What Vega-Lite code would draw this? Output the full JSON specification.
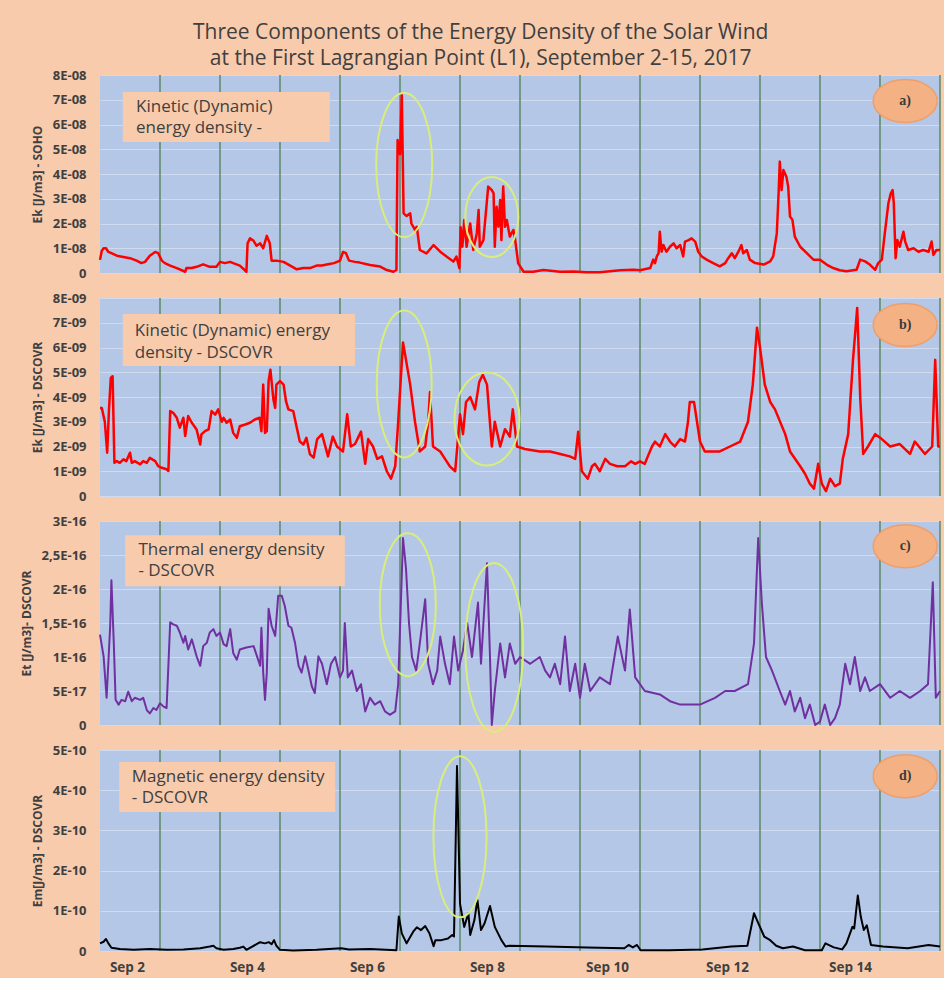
{
  "$schema": "https://vega.github.io/schema/vega-lite/v6.json",
  "background": "#F8CBAD",
  "padding": {"left": 20, "top": 22, "right": 2, "bottom": 4},
  "title": {"text": ["Three Components of the Energy Density of the Solar Wind", "at the First Lagrangian Point (L1), September 2-15, 2017"], "font": "Open Sans", "fontSize": 21, "fontWeight": "normal", "color": "#404040", "lineHeight": 26, "anchor": "middle", "offset": 0},
  "config": {
    "view": {"stroke": null, "fill": "#B4C7E7"},
    "font": "Open Sans",
    "axis": {"labelFont": "Open Sans", "labelFontSize": 13, "labelFontWeight": "bold", "labelColor": "#404040", "labelOverlap": false, "titleFont": "Open Sans", "titleFontSize": 12, "titleFontWeight": "bold", "titleColor": "#404040", "ticks": false, "domain": false, "gridColor": "#D0DBEF", "gridWidth": 1, "labelPadding": 14, "titlePadding": 8}
  },
  "datasets": {
    "days": [{"d":1},{"d":2},{"d":3},{"d":4},{"d":5},{"d":6},{"d":7},{"d":8},{"d":9},{"d":10},{"d":11},{"d":12},{"d":13},{"d":14}],
    "a": [{"d":0,"v":0.53e-8},{"d":0.03,"v":0.9e-8},{"d":0.06,"v":1.0e-8},{"d":0.1,"v":1.0e-8},{"d":0.14,"v":0.85e-8},{"d":0.19,"v":0.8e-8},{"d":0.28,"v":0.7e-8},{"d":0.39,"v":0.65e-8},{"d":0.5,"v":0.6e-8},{"d":0.61,"v":0.5e-8},{"d":0.69,"v":0.4e-8},{"d":0.75,"v":0.45e-8},{"d":0.83,"v":0.7e-8},{"d":0.92,"v":0.85e-8},{"d":0.97,"v":0.8e-8},{"d":1.03,"v":0.5e-8},{"d":1.08,"v":0.4e-8},{"d":1.17,"v":0.3e-8},{"d":1.28,"v":0.2e-8},{"d":1.42,"v":0.05e-8},{"d":1.44,"v":0.2e-8},{"d":1.53,"v":0.2e-8},{"d":1.61,"v":0.25e-8},{"d":1.72,"v":0.35e-8},{"d":1.83,"v":0.25e-8},{"d":1.94,"v":0.25e-8},{"d":2.0,"v":0.45e-8},{"d":2.08,"v":0.4e-8},{"d":2.17,"v":0.45e-8},{"d":2.22,"v":0.4e-8},{"d":2.33,"v":0.3e-8},{"d":2.42,"v":0.1e-8},{"d":2.44,"v":0.05e-8},{"d":2.46,"v":1.2e-8},{"d":2.5,"v":1.4e-8},{"d":2.56,"v":1.3e-8},{"d":2.61,"v":1.1e-8},{"d":2.67,"v":1.2e-8},{"d":2.72,"v":1.0e-8},{"d":2.78,"v":1.5e-8},{"d":2.83,"v":1.2e-8},{"d":2.86,"v":0.5e-8},{"d":2.94,"v":0.5e-8},{"d":3.06,"v":0.45e-8},{"d":3.17,"v":0.3e-8},{"d":3.28,"v":0.15e-8},{"d":3.39,"v":0.2e-8},{"d":3.5,"v":0.2e-8},{"d":3.61,"v":0.3e-8},{"d":3.7,"v":0.3e-8},{"d":3.8,"v":0.35e-8},{"d":3.9,"v":0.4e-8},{"d":4.0,"v":0.5e-8},{"d":4.05,"v":0.85e-8},{"d":4.1,"v":0.8e-8},{"d":4.15,"v":0.5e-8},{"d":4.25,"v":0.45e-8},{"d":4.33,"v":0.42e-8},{"d":4.5,"v":0.32e-8},{"d":4.67,"v":0.26e-8},{"d":4.78,"v":0.12e-8},{"d":4.89,"v":0.05e-8},{"d":4.94,"v":0.12e-8},{"d":4.96,"v":5.37e-8},{"d":5.0,"v":4.8e-8},{"d":5.03,"v":7.19e-8},{"d":5.06,"v":2.41e-8},{"d":5.11,"v":2.3e-8},{"d":5.17,"v":2.41e-8},{"d":5.19,"v":2.0e-8},{"d":5.25,"v":1.74e-8},{"d":5.28,"v":1.87e-8},{"d":5.33,"v":0.93e-8},{"d":5.44,"v":0.79e-8},{"d":5.56,"v":1.13e-8},{"d":5.67,"v":0.86e-8},{"d":5.78,"v":0.66e-8},{"d":5.89,"v":0.46e-8},{"d":5.94,"v":0.66e-8},{"d":5.99,"v":0.19e-8},{"d":6.01,"v":1.85e-8},{"d":6.04,"v":1.06e-8},{"d":6.07,"v":2.14e-8},{"d":6.11,"v":1.06e-8},{"d":6.17,"v":2.0e-8},{"d":6.22,"v":0.93e-8},{"d":6.28,"v":1.6e-8},{"d":6.31,"v":2.55e-8},{"d":6.33,"v":1.06e-8},{"d":6.39,"v":1.33e-8},{"d":6.47,"v":3.49e-8},{"d":6.53,"v":3.35e-8},{"d":6.56,"v":3.22e-8},{"d":6.58,"v":1.06e-8},{"d":6.61,"v":2.68e-8},{"d":6.64,"v":1.87e-8},{"d":6.67,"v":2.95e-8},{"d":6.69,"v":1.33e-8},{"d":6.72,"v":3.49e-8},{"d":6.75,"v":1.87e-8},{"d":6.78,"v":2.14e-8},{"d":6.83,"v":1.47e-8},{"d":6.89,"v":1.74e-8},{"d":6.92,"v":1.33e-8},{"d":6.97,"v":0.39e-8},{"d":7.06,"v":0.05e-8},{"d":7.22,"v":0.05e-8},{"d":7.39,"v":0.12e-8},{"d":7.67,"v":0.05e-8},{"d":7.9,"v":0.06e-8},{"d":8.1,"v":0.03e-8},{"d":8.33,"v":0.03e-8},{"d":8.5,"v":0.07e-8},{"d":8.67,"v":0.11e-8},{"d":8.89,"v":0.13e-8},{"d":9.0,"v":0.11e-8},{"d":9.17,"v":0.2e-8},{"d":9.22,"v":0.54e-8},{"d":9.25,"v":0.4e-8},{"d":9.28,"v":0.67e-8},{"d":9.31,"v":0.8e-8},{"d":9.33,"v":1.67e-8},{"d":9.36,"v":0.86e-8},{"d":9.39,"v":1.13e-8},{"d":9.44,"v":0.86e-8},{"d":9.5,"v":1.06e-8},{"d":9.56,"v":1.2e-8},{"d":9.61,"v":1.0e-8},{"d":9.67,"v":1.13e-8},{"d":9.72,"v":0.67e-8},{"d":9.75,"v":1.27e-8},{"d":9.81,"v":1.33e-8},{"d":9.86,"v":1.4e-8},{"d":9.92,"v":1.27e-8},{"d":9.97,"v":0.86e-8},{"d":10.03,"v":0.67e-8},{"d":10.11,"v":0.54e-8},{"d":10.22,"v":0.4e-8},{"d":10.33,"v":0.27e-8},{"d":10.42,"v":0.4e-8},{"d":10.47,"v":0.6e-8},{"d":10.53,"v":0.8e-8},{"d":10.58,"v":0.6e-8},{"d":10.64,"v":0.86e-8},{"d":10.69,"v":1.13e-8},{"d":10.72,"v":0.8e-8},{"d":10.78,"v":0.93e-8},{"d":10.83,"v":0.54e-8},{"d":10.92,"v":0.4e-8},{"d":11.06,"v":0.34e-8},{"d":11.17,"v":0.47e-8},{"d":11.22,"v":0.67e-8},{"d":11.28,"v":1.6e-8},{"d":11.31,"v":3.22e-8},{"d":11.33,"v":4.5e-8},{"d":11.36,"v":3.35e-8},{"d":11.39,"v":4.16e-8},{"d":11.44,"v":3.89e-8},{"d":11.47,"v":3.49e-8},{"d":11.5,"v":2.28e-8},{"d":11.54,"v":2.15e-8},{"d":11.58,"v":1.47e-8},{"d":11.67,"v":1.06e-8},{"d":11.78,"v":0.8e-8},{"d":11.89,"v":0.54e-8},{"d":12.0,"v":0.54e-8},{"d":12.11,"v":0.34e-8},{"d":12.22,"v":0.2e-8},{"d":12.33,"v":0.11e-8},{"d":12.44,"v":0.07e-8},{"d":12.61,"v":0.13e-8},{"d":12.67,"v":0.54e-8},{"d":12.75,"v":0.47e-8},{"d":12.83,"v":0.34e-8},{"d":12.92,"v":0.13e-8},{"d":12.97,"v":0.4e-8},{"d":13.03,"v":0.54e-8},{"d":13.08,"v":1.6e-8},{"d":13.14,"v":2.82e-8},{"d":13.18,"v":3.22e-8},{"d":13.21,"v":3.35e-8},{"d":13.23,"v":2.82e-8},{"d":13.26,"v":0.6e-8},{"d":13.29,"v":1.33e-8},{"d":13.33,"v":1.06e-8},{"d":13.39,"v":1.67e-8},{"d":13.42,"v":1.27e-8},{"d":13.47,"v":0.93e-8},{"d":13.56,"v":1.0e-8},{"d":13.64,"v":0.86e-8},{"d":13.72,"v":0.93e-8},{"d":13.81,"v":0.86e-8},{"d":13.86,"v":1.27e-8},{"d":13.89,"v":0.73e-8},{"d":13.94,"v":0.93e-8},{"d":14.0,"v":0.93e-8}],
    "b": [{"d":0,"v":3.56e-9},{"d":0.03,"v":3.56e-9},{"d":0.08,"v":3.0e-9},{"d":0.12,"v":1.75e-9},{"d":0.15,"v":3.5e-9},{"d":0.18,"v":4.77e-9},{"d":0.21,"v":4.84e-9},{"d":0.24,"v":1.34e-9},{"d":0.28,"v":1.41e-9},{"d":0.33,"v":1.34e-9},{"d":0.39,"v":1.48e-9},{"d":0.44,"v":1.41e-9},{"d":0.5,"v":1.75e-9},{"d":0.53,"v":1.34e-9},{"d":0.58,"v":1.41e-9},{"d":0.67,"v":1.28e-9},{"d":0.72,"v":1.41e-9},{"d":0.78,"v":1.34e-9},{"d":0.83,"v":1.54e-9},{"d":0.92,"v":1.41e-9},{"d":0.97,"v":1.21e-9},{"d":1.03,"v":1.14e-9},{"d":1.11,"v":1.08e-9},{"d":1.14,"v":1.01e-9},{"d":1.17,"v":3.43e-9},{"d":1.22,"v":3.36e-9},{"d":1.28,"v":3.16e-9},{"d":1.33,"v":2.76e-9},{"d":1.39,"v":3.16e-9},{"d":1.42,"v":2.42e-9},{"d":1.47,"v":3.23e-9},{"d":1.53,"v":2.96e-9},{"d":1.61,"v":2.69e-9},{"d":1.67,"v":2.08e-9},{"d":1.69,"v":2.49e-9},{"d":1.75,"v":2.62e-9},{"d":1.81,"v":2.69e-9},{"d":1.86,"v":3.43e-9},{"d":1.92,"v":3.29e-9},{"d":1.97,"v":3.5e-9},{"d":2.03,"v":3.0e-9},{"d":2.06,"v":3.16e-9},{"d":2.11,"v":2.96e-9},{"d":2.17,"v":3.09e-9},{"d":2.22,"v":2.55e-9},{"d":2.28,"v":2.35e-9},{"d":2.33,"v":2.82e-9},{"d":2.42,"v":2.89e-9},{"d":2.5,"v":2.96e-9},{"d":2.58,"v":3.09e-9},{"d":2.66,"v":3.16e-9},{"d":2.69,"v":2.62e-9},{"d":2.72,"v":4.5e-9},{"d":2.75,"v":2.55e-9},{"d":2.78,"v":2.62e-9},{"d":2.81,"v":4.64e-9},{"d":2.84,"v":5.1e-9},{"d":2.89,"v":3.9e-9},{"d":2.92,"v":3.56e-9},{"d":2.94,"v":4.5e-9},{"d":3.0,"v":4.64e-9},{"d":3.06,"v":4.5e-9},{"d":3.1,"v":3.83e-9},{"d":3.14,"v":3.5e-9},{"d":3.22,"v":3.43e-9},{"d":3.28,"v":2.76e-9},{"d":3.33,"v":2.2e-9},{"d":3.39,"v":2.08e-9},{"d":3.44,"v":2.35e-9},{"d":3.5,"v":1.68e-9},{"d":3.56,"v":1.55e-9},{"d":3.62,"v":2.3e-9},{"d":3.7,"v":2.5e-9},{"d":3.8,"v":1.6e-9},{"d":3.88,"v":2.4e-9},{"d":3.95,"v":2.0e-9},{"d":4.05,"v":1.8e-9},{"d":4.12,"v":3.3e-9},{"d":4.18,"v":2.0e-9},{"d":4.25,"v":2.1e-9},{"d":4.35,"v":2.6e-9},{"d":4.42,"v":1.3e-9},{"d":4.47,"v":2.3e-9},{"d":4.55,"v":2.0e-9},{"d":4.62,"v":1.5e-9},{"d":4.7,"v":1.6e-9},{"d":4.78,"v":1.0e-9},{"d":4.85,"v":0.7e-9},{"d":4.92,"v":1.2e-9},{"d":4.97,"v":3.0e-9},{"d":5.05,"v":6.2e-9},{"d":5.1,"v":5.5e-9},{"d":5.17,"v":4.5e-9},{"d":5.25,"v":3.0e-9},{"d":5.33,"v":1.8e-9},{"d":5.42,"v":2.0e-9},{"d":5.47,"v":3.0e-9},{"d":5.5,"v":4.2e-9},{"d":5.55,"v":2.0e-9},{"d":5.67,"v":1.8e-9},{"d":5.75,"v":1.5e-9},{"d":5.83,"v":1.2e-9},{"d":5.92,"v":1.0e-9},{"d":6.0,"v":3.3e-9},{"d":6.05,"v":2.5e-9},{"d":6.1,"v":3.8e-9},{"d":6.17,"v":4.0e-9},{"d":6.25,"v":3.5e-9},{"d":6.32,"v":4.6e-9},{"d":6.38,"v":4.9e-9},{"d":6.45,"v":4.5e-9},{"d":6.53,"v":2.0e-9},{"d":6.58,"v":3.0e-9},{"d":6.67,"v":2.0e-9},{"d":6.75,"v":2.7e-9},{"d":6.83,"v":2.4e-9},{"d":6.88,"v":3.5e-9},{"d":6.95,"v":2.0e-9},{"d":7.08,"v":1.9e-9},{"d":7.33,"v":1.8e-9},{"d":7.5,"v":1.8e-9},{"d":7.67,"v":1.7e-9},{"d":7.83,"v":1.6e-9},{"d":7.92,"v":1.5e-9},{"d":7.97,"v":2.6e-9},{"d":8.03,"v":1.0e-9},{"d":8.13,"v":0.7e-9},{"d":8.2,"v":1.2e-9},{"d":8.25,"v":1.3e-9},{"d":8.33,"v":1.0e-9},{"d":8.42,"v":1.5e-9},{"d":8.5,"v":1.3e-9},{"d":8.62,"v":1.2e-9},{"d":8.75,"v":1.2e-9},{"d":8.85,"v":1.4e-9},{"d":8.92,"v":1.3e-9},{"d":9.0,"v":1.4e-9},{"d":9.08,"v":1.3e-9},{"d":9.13,"v":1.6e-9},{"d":9.2,"v":2.0e-9},{"d":9.25,"v":2.2e-9},{"d":9.33,"v":2.0e-9},{"d":9.42,"v":2.5e-9},{"d":9.5,"v":2.2e-9},{"d":9.58,"v":2.0e-9},{"d":9.67,"v":2.3e-9},{"d":9.75,"v":2.2e-9},{"d":9.8,"v":3.0e-9},{"d":9.83,"v":3.8e-9},{"d":9.9,"v":3.8e-9},{"d":9.95,"v":3.0e-9},{"d":10.0,"v":2.2e-9},{"d":10.08,"v":1.8e-9},{"d":10.17,"v":1.8e-9},{"d":10.33,"v":1.8e-9},{"d":10.5,"v":2.0e-9},{"d":10.67,"v":2.2e-9},{"d":10.8,"v":3.0e-9},{"d":10.88,"v":4.5e-9},{"d":10.95,"v":6.8e-9},{"d":11.0,"v":6.0e-9},{"d":11.08,"v":4.5e-9},{"d":11.17,"v":3.8e-9},{"d":11.25,"v":3.5e-9},{"d":11.42,"v":2.5e-9},{"d":11.5,"v":1.8e-9},{"d":11.67,"v":1.2e-9},{"d":11.75,"v":0.9e-9},{"d":11.83,"v":0.5e-9},{"d":11.9,"v":0.3e-9},{"d":11.97,"v":1.3e-9},{"d":12.03,"v":0.5e-9},{"d":12.1,"v":0.2e-9},{"d":12.17,"v":0.7e-9},{"d":12.25,"v":0.4e-9},{"d":12.33,"v":0.5e-9},{"d":12.38,"v":1.5e-9},{"d":12.47,"v":2.5e-9},{"d":12.55,"v":5.5e-9},{"d":12.62,"v":7.6e-9},{"d":12.67,"v":4.0e-9},{"d":12.72,"v":1.7e-9},{"d":12.8,"v":2.0e-9},{"d":12.92,"v":2.5e-9},{"d":13.03,"v":2.3e-9},{"d":13.17,"v":2.0e-9},{"d":13.33,"v":2.1e-9},{"d":13.5,"v":1.7e-9},{"d":13.58,"v":2.2e-9},{"d":13.75,"v":1.7e-9},{"d":13.87,"v":2.0e-9},{"d":13.92,"v":5.5e-9},{"d":13.97,"v":2.0e-9},{"d":14.0,"v":2.0e-9}],
    "c": [{"d":0,"v":1.33e-16},{"d":0.06,"v":1.01e-16},{"d":0.11,"v":0.4e-16},{"d":0.17,"v":1.46e-16},{"d":0.19,"v":2.13e-16},{"d":0.23,"v":1.2e-16},{"d":0.26,"v":0.37e-16},{"d":0.31,"v":0.3e-16},{"d":0.36,"v":0.37e-16},{"d":0.42,"v":0.35e-16},{"d":0.47,"v":0.49e-16},{"d":0.53,"v":0.35e-16},{"d":0.58,"v":0.4e-16},{"d":0.67,"v":0.37e-16},{"d":0.72,"v":0.4e-16},{"d":0.78,"v":0.22e-16},{"d":0.83,"v":0.17e-16},{"d":0.89,"v":0.25e-16},{"d":0.94,"v":0.22e-16},{"d":1.0,"v":0.32e-16},{"d":1.06,"v":0.27e-16},{"d":1.11,"v":0.25e-16},{"d":1.17,"v":1.51e-16},{"d":1.22,"v":1.48e-16},{"d":1.28,"v":1.46e-16},{"d":1.33,"v":1.36e-16},{"d":1.39,"v":1.21e-16},{"d":1.42,"v":1.31e-16},{"d":1.47,"v":1.11e-16},{"d":1.53,"v":1.26e-16},{"d":1.61,"v":1.01e-16},{"d":1.67,"v":0.87e-16},{"d":1.72,"v":1.16e-16},{"d":1.78,"v":1.21e-16},{"d":1.83,"v":1.36e-16},{"d":1.89,"v":1.41e-16},{"d":1.94,"v":1.31e-16},{"d":2.0,"v":1.36e-16},{"d":2.06,"v":1.19e-16},{"d":2.11,"v":1.16e-16},{"d":2.17,"v":1.41e-16},{"d":2.22,"v":1.06e-16},{"d":2.28,"v":0.96e-16},{"d":2.33,"v":1.11e-16},{"d":2.44,"v":1.14e-16},{"d":2.56,"v":1.16e-16},{"d":2.67,"v":0.87e-16},{"d":2.69,"v":1.43e-16},{"d":2.72,"v":0.77e-16},{"d":2.75,"v":0.37e-16},{"d":2.78,"v":0.77e-16},{"d":2.81,"v":1.71e-16},{"d":2.86,"v":1.46e-16},{"d":2.92,"v":1.31e-16},{"d":2.97,"v":1.9e-16},{"d":3.03,"v":1.9e-16},{"d":3.08,"v":1.75e-16},{"d":3.14,"v":1.46e-16},{"d":3.19,"v":1.43e-16},{"d":3.25,"v":1.21e-16},{"d":3.31,"v":0.87e-16},{"d":3.36,"v":0.77e-16},{"d":3.42,"v":1.01e-16},{"d":3.47,"v":0.82e-16},{"d":3.53,"v":0.57e-16},{"d":3.58,"v":0.47e-16},{"d":3.64,"v":1.01e-16},{"d":3.7,"v":0.9e-16},{"d":3.78,"v":0.6e-16},{"d":3.85,"v":0.9e-16},{"d":3.92,"v":1.0e-16},{"d":4.0,"v":0.7e-16},{"d":4.05,"v":0.8e-16},{"d":4.08,"v":1.5e-16},{"d":4.13,"v":0.7e-16},{"d":4.2,"v":0.8e-16},{"d":4.28,"v":0.5e-16},{"d":4.35,"v":0.6e-16},{"d":4.42,"v":0.2e-16},{"d":4.5,"v":0.4e-16},{"d":4.58,"v":0.3e-16},{"d":4.67,"v":0.35e-16},{"d":4.75,"v":0.2e-16},{"d":4.83,"v":0.15e-16},{"d":4.92,"v":0.2e-16},{"d":4.97,"v":0.6e-16},{"d":5.05,"v":2.75e-16},{"d":5.1,"v":2.3e-16},{"d":5.15,"v":1.5e-16},{"d":5.2,"v":1.0e-16},{"d":5.27,"v":0.8e-16},{"d":5.33,"v":1.2e-16},{"d":5.42,"v":1.85e-16},{"d":5.47,"v":0.9e-16},{"d":5.55,"v":0.6e-16},{"d":5.62,"v":0.8e-16},{"d":5.67,"v":1.3e-16},{"d":5.75,"v":0.9e-16},{"d":5.83,"v":0.6e-16},{"d":5.9,"v":1.3e-16},{"d":5.97,"v":0.8e-16},{"d":6.05,"v":1.1e-16},{"d":6.12,"v":1.5e-16},{"d":6.2,"v":1.0e-16},{"d":6.25,"v":1.4e-16},{"d":6.3,"v":1.8e-16},{"d":6.35,"v":0.9e-16},{"d":6.45,"v":2.38e-16},{"d":6.5,"v":1.0e-16},{"d":6.53,"v":0.0},{"d":6.58,"v":0.5e-16},{"d":6.67,"v":1.2e-16},{"d":6.75,"v":0.7e-16},{"d":6.83,"v":1.2e-16},{"d":6.92,"v":0.9e-16},{"d":7.0,"v":1.0e-16},{"d":7.17,"v":0.9e-16},{"d":7.33,"v":1.0e-16},{"d":7.42,"v":0.8e-16},{"d":7.5,"v":0.7e-16},{"d":7.58,"v":0.9e-16},{"d":7.67,"v":0.6e-16},{"d":7.75,"v":1.3e-16},{"d":7.83,"v":0.5e-16},{"d":7.92,"v":0.9e-16},{"d":8.0,"v":0.4e-16},{"d":8.08,"v":0.9e-16},{"d":8.17,"v":0.5e-16},{"d":8.33,"v":0.7e-16},{"d":8.5,"v":0.6e-16},{"d":8.63,"v":1.3e-16},{"d":8.75,"v":0.8e-16},{"d":8.83,"v":1.7e-16},{"d":8.92,"v":0.7e-16},{"d":9.08,"v":0.5e-16},{"d":9.33,"v":0.45e-16},{"d":9.5,"v":0.35e-16},{"d":9.67,"v":0.3e-16},{"d":10.0,"v":0.3e-16},{"d":10.25,"v":0.4e-16},{"d":10.42,"v":0.5e-16},{"d":10.58,"v":0.5e-16},{"d":10.8,"v":0.6e-16},{"d":10.9,"v":1.2e-16},{"d":10.97,"v":2.75e-16},{"d":11.03,"v":1.8e-16},{"d":11.1,"v":1.0e-16},{"d":11.2,"v":0.8e-16},{"d":11.33,"v":0.5e-16},{"d":11.42,"v":0.3e-16},{"d":11.5,"v":0.5e-16},{"d":11.58,"v":0.2e-16},{"d":11.67,"v":0.4e-16},{"d":11.75,"v":0.1e-16},{"d":11.83,"v":0.3e-16},{"d":11.92,"v":0.0},{"d":12.0,"v":0.05e-16},{"d":12.08,"v":0.3e-16},{"d":12.17,"v":0.0},{"d":12.25,"v":0.1e-16},{"d":12.33,"v":0.3e-16},{"d":12.42,"v":0.9e-16},{"d":12.5,"v":0.6e-16},{"d":12.58,"v":1.0e-16},{"d":12.67,"v":0.5e-16},{"d":12.75,"v":0.7e-16},{"d":12.83,"v":0.5e-16},{"d":13.0,"v":0.6e-16},{"d":13.17,"v":0.4e-16},{"d":13.33,"v":0.5e-16},{"d":13.5,"v":0.4e-16},{"d":13.67,"v":0.5e-16},{"d":13.8,"v":0.6e-16},{"d":13.88,"v":2.1e-16},{"d":13.93,"v":0.4e-16},{"d":14.0,"v":0.5e-16}],
    "dd": [{"d":0,"v":0.19e-10},{"d":0.06,"v":0.23e-10},{"d":0.1,"v":0.3e-10},{"d":0.14,"v":0.19e-10},{"d":0.19,"v":0.08e-10},{"d":0.33,"v":0.05e-10},{"d":0.56,"v":0.03e-10},{"d":0.83,"v":0.05e-10},{"d":1.11,"v":0.03e-10},{"d":1.39,"v":0.04e-10},{"d":1.67,"v":0.07e-10},{"d":1.83,"v":0.11e-10},{"d":1.89,"v":0.13e-10},{"d":1.94,"v":0.07e-10},{"d":2.06,"v":0.03e-10},{"d":2.22,"v":0.05e-10},{"d":2.33,"v":0.08e-10},{"d":2.39,"v":0.11e-10},{"d":2.44,"v":0.03e-10},{"d":2.61,"v":0.17e-10},{"d":2.67,"v":0.22e-10},{"d":2.75,"v":0.19e-10},{"d":2.81,"v":0.22e-10},{"d":2.86,"v":0.17e-10},{"d":2.9,"v":0.27e-10},{"d":2.94,"v":0.13e-10},{"d":3.0,"v":0.03e-10},{"d":3.22,"v":0.01e-10},{"d":3.61,"v":0.03e-10},{"d":4.02,"v":0.07e-10},{"d":4.15,"v":0.04e-10},{"d":4.5,"v":0.05e-10},{"d":4.94,"v":0.02e-10},{"d":4.98,"v":0.86e-10},{"d":5.03,"v":0.44e-10},{"d":5.11,"v":0.19e-10},{"d":5.22,"v":0.48e-10},{"d":5.28,"v":0.59e-10},{"d":5.35,"v":0.52e-10},{"d":5.42,"v":0.62e-10},{"d":5.49,"v":0.44e-10},{"d":5.56,"v":0.12e-10},{"d":5.59,"v":0.27e-10},{"d":5.69,"v":0.27e-10},{"d":5.8,"v":0.31e-10},{"d":5.87,"v":0.4e-10},{"d":5.9,"v":0.36e-10},{"d":5.95,"v":4.6e-10},{"d":6.0,"v":1.18e-10},{"d":6.07,"v":0.6e-10},{"d":6.14,"v":0.94e-10},{"d":6.17,"v":0.4e-10},{"d":6.24,"v":0.77e-10},{"d":6.29,"v":1.27e-10},{"d":6.35,"v":0.52e-10},{"d":6.41,"v":0.69e-10},{"d":6.5,"v":1.12e-10},{"d":6.58,"v":0.6e-10},{"d":6.69,"v":0.27e-10},{"d":6.76,"v":0.11e-10},{"d":6.82,"v":0.13e-10},{"d":7.44,"v":0.11e-10},{"d":8.12,"v":0.09e-10},{"d":8.74,"v":0.07e-10},{"d":8.81,"v":0.15e-10},{"d":8.88,"v":0.09e-10},{"d":8.95,"v":0.15e-10},{"d":9.01,"v":0.02e-10},{"d":9.49,"v":0.02e-10},{"d":10.04,"v":0.04e-10},{"d":10.52,"v":0.11e-10},{"d":10.79,"v":0.13e-10},{"d":10.9,"v":0.94e-10},{"d":10.96,"v":0.73e-10},{"d":11.07,"v":0.36e-10},{"d":11.17,"v":0.27e-10},{"d":11.27,"v":0.13e-10},{"d":11.38,"v":0.07e-10},{"d":11.55,"v":0.11e-10},{"d":11.75,"v":0.02e-10},{"d":12.03,"v":0.02e-10},{"d":12.09,"v":0.19e-10},{"d":12.23,"v":0.09e-10},{"d":12.37,"v":0.04e-10},{"d":12.44,"v":0.19e-10},{"d":12.54,"v":0.6e-10},{"d":12.57,"v":0.56e-10},{"d":12.63,"v":1.38e-10},{"d":12.68,"v":0.85e-10},{"d":12.73,"v":0.52e-10},{"d":12.78,"v":0.64e-10},{"d":12.85,"v":0.15e-10},{"d":13.05,"v":0.11e-10},{"d":13.46,"v":0.07e-10},{"d":13.81,"v":0.15e-10},{"d":14.0,"v":0.11e-10}]
  },
  "vconcat": [
    {
      "width": 840, "height": 198,
      "layer": [
        {"data": {"name": "days"}, "mark": {"type": "rule", "color": "#5B8A66", "strokeWidth": 1.5}, "encoding": {"x": {"field": "d", "type": "quantitative", "scale": {"domain": [0, 14]}, "axis": null}}},
        {"data": {"name": "a"}, "mark": {"type": "line", "color": "#FF0000", "strokeWidth": 2.5, "strokeJoin": "round"},
         "encoding": {"x": {"field": "d", "type": "quantitative", "scale": {"domain": [0, 14]}, "axis": null},
                      "y": {"field": "v", "type": "quantitative", "scale": {"domain": [0, 8e-8]}, "axis": {"title": "Ek [J/m3] - SOHO", "labelOverlap": false, "values": [0, 1e-8, 2e-8, 3e-8, 4e-8, 5e-8, 6e-8, 7e-8, 8e-8], "labelExpr": "datum.value == 0 ? '0' : round(datum.value * 1e8) + 'E-08'"}}}},
        {"data": {"values": [{"x1": 0.38, "x2": 3.83, "y1": 5.29e-8, "y2": 7.31e-8}]}, "mark": {"type": "rect", "color": "#F8CBAD", "opacity": 1},
         "encoding": {"x": {"field": "x1", "type": "quantitative", "scale": {"domain": [0, 14]}, "axis": null}, "x2": {"field": "x2"}, "y": {"field": "y1", "type": "quantitative", "scale": {"domain": [0, 8e-8]}, "axis": {"title": "Ek [J/m3] - SOHO", "labelOverlap": false, "values": [0, 1e-8, 2e-8, 3e-8, 4e-8, 5e-8, 6e-8, 7e-8, 8e-8], "labelExpr": "datum.value == 0 ? '0' : round(datum.value * 1e8) + 'E-08'"}}, "y2": {"field": "y2"}}},
        {"data": {"values": [{"x": 0.6, "y": 6.71e-8, "t": "Kinetic (Dynamic)\nenergy density -"}]}, "mark": {"type": "text", "align": "left", "baseline": "middle", "lineBreak": "\n", "lineHeight": 21, "fontSize": 17, "font": "Open Sans", "color": "#404040"},
         "encoding": {"x": {"field": "x", "type": "quantitative", "scale": {"domain": [0, 14]}, "axis": null}, "y": {"field": "y", "type": "quantitative", "scale": {"domain": [0, 8e-8]}, "axis": {"title": "Ek [J/m3] - SOHO", "labelOverlap": false, "values": [0, 1e-8, 2e-8, 3e-8, 4e-8, 5e-8, 6e-8, 7e-8, 8e-8], "labelExpr": "datum.value == 0 ? '0' : round(datum.value * 1e8) + 'E-08'"}}, "text": {"field": "t"}}},
        {"data": {"values": [{"x": 5.07, "y": 4.36e-8}]}, "mark": {"type": "point", "shape": "M 0 -1 A 0.389 1 0 1 1 0 1 A 0.389 1 0 1 1 0 -1 Z", "size": 20736, "filled": false, "stroke": "#D9EE7A", "strokeWidth": 2, "opacity": 1},
         "encoding": {"x": {"field": "x", "type": "quantitative", "scale": {"domain": [0, 14]}, "axis": null}, "y": {"field": "y", "type": "quantitative", "scale": {"domain": [0, 8e-8]}, "axis": {"title": "Ek [J/m3] - SOHO", "labelOverlap": false, "values": [0, 1e-8, 2e-8, 3e-8, 4e-8, 5e-8, 6e-8, 7e-8, 8e-8], "labelExpr": "datum.value == 0 ? '0' : round(datum.value * 1e8) + 'E-08'"}}}},
        {"data": {"values": [{"x": 6.53, "y": 2.26e-8}]}, "mark": {"type": "point", "shape": "M 0 -1 A 0.6625 1 0 1 1 0 1 A 0.6625 1 0 1 1 0 -1 Z", "size": 6400, "filled": false, "stroke": "#D9EE7A", "strokeWidth": 2, "opacity": 1},
         "encoding": {"x": {"field": "x", "type": "quantitative", "scale": {"domain": [0, 14]}, "axis": null}, "y": {"field": "y", "type": "quantitative", "scale": {"domain": [0, 8e-8]}, "axis": {"title": "Ek [J/m3] - SOHO", "labelOverlap": false, "values": [0, 1e-8, 2e-8, 3e-8, 4e-8, 5e-8, 6e-8, 7e-8, 8e-8], "labelExpr": "datum.value == 0 ? '0' : round(datum.value * 1e8) + 'E-08'"}}}},
        {"data": {"values": [{"x": 13.42, "y": 6.95e-8, "t": "a)"}]}, "mark": {"type": "point", "shape": "M -1 0 A 1 0.672 0 1 1 1 0 A 1 0.672 0 1 1 -1 0 Z", "size": 4096, "filled": true, "fill": "#F4B183", "stroke": "#EE9F6C", "strokeWidth": 1.5, "opacity": 1},
         "encoding": {"x": {"field": "x", "type": "quantitative", "scale": {"domain": [0, 14]}, "axis": null}, "y": {"field": "y", "type": "quantitative", "scale": {"domain": [0, 8e-8]}, "axis": {"title": "Ek [J/m3] - SOHO", "labelOverlap": false, "values": [0, 1e-8, 2e-8, 3e-8, 4e-8, 5e-8, 6e-8, 7e-8, 8e-8], "labelExpr": "datum.value == 0 ? '0' : round(datum.value * 1e8) + 'E-08'"}}}},
        {"data": {"values": [{"x": 13.42, "y": 6.95e-8, "t": "a)"}]}, "mark": {"type": "text", "font": "Liberation Serif", "fontSize": 14, "fontWeight": "bold", "color": "#3A3A3A", "baseline": "middle"},
         "encoding": {"x": {"field": "x", "type": "quantitative", "scale": {"domain": [0, 14]}, "axis": null}, "y": {"field": "y", "type": "quantitative", "scale": {"domain": [0, 8e-8]}, "axis": {"title": "Ek [J/m3] - SOHO", "labelOverlap": false, "values": [0, 1e-8, 2e-8, 3e-8, 4e-8, 5e-8, 6e-8, 7e-8, 8e-8], "labelExpr": "datum.value == 0 ? '0' : round(datum.value * 1e8) + 'E-08'"}}, "text": {"field": "t"}}}
      ]
    },
    {
      "width": 840, "height": 198,
      "layer": [
        {"data": {"name": "days"}, "mark": {"type": "rule", "color": "#5B8A66", "strokeWidth": 1.5}, "encoding": {"x": {"field": "d", "type": "quantitative", "scale": {"domain": [0, 14]}, "axis": null}}},
        {"data": {"name": "b"}, "mark": {"type": "line", "color": "#FF0000", "strokeWidth": 2.5, "strokeJoin": "round"},
         "encoding": {"x": {"field": "d", "type": "quantitative", "scale": {"domain": [0, 14]}, "axis": null},
                      "y": {"field": "v", "type": "quantitative", "scale": {"domain": [0, 8e-9]}, "axis": {"title": "Ek [J/m3] - DSCOVR", "labelOverlap": false, "values": [0, 1e-9, 2e-9, 3e-9, 4e-9, 5e-9, 6e-9, 7e-9, 8e-9], "labelExpr": "datum.value == 0 ? '0' : round(datum.value * 1e9) + 'E-09'"}}}},
        {"data": {"values": [{"x1": 0.38, "x2": 4.25, "y1": 5.25e-9, "y2": 7.35e-9}]}, "mark": {"type": "rect", "color": "#F8CBAD", "opacity": 1},
         "encoding": {"x": {"field": "x1", "type": "quantitative", "scale": {"domain": [0, 14]}, "axis": null}, "x2": {"field": "x2"}, "y": {"field": "y1", "type": "quantitative", "scale": {"domain": [0, 8e-9]}, "axis": {"title": "Ek [J/m3] - DSCOVR", "labelOverlap": false, "values": [0, 1e-9, 2e-9, 3e-9, 4e-9, 5e-9, 6e-9, 7e-9, 8e-9], "labelExpr": "datum.value == 0 ? '0' : round(datum.value * 1e9) + 'E-09'"}}, "y2": {"field": "y2"}}},
        {"data": {"values": [{"x": 0.58, "y": 6.67e-9, "t": "Kinetic (Dynamic) energy\ndensity - DSCOVR"}]}, "mark": {"type": "text", "align": "left", "baseline": "middle", "lineBreak": "\n", "lineHeight": 22, "fontSize": 17, "font": "Open Sans", "color": "#404040"},
         "encoding": {"x": {"field": "x", "type": "quantitative", "scale": {"domain": [0, 14]}, "axis": null}, "y": {"field": "y", "type": "quantitative", "scale": {"domain": [0, 8e-9]}, "axis": {"title": "Ek [J/m3] - DSCOVR", "labelOverlap": false, "values": [0, 1e-9, 2e-9, 3e-9, 4e-9, 5e-9, 6e-9, 7e-9, 8e-9], "labelExpr": "datum.value == 0 ? '0' : round(datum.value * 1e9) + 'E-09'"}}, "text": {"field": "t"}}},
        {"data": {"values": [{"x": 5.07, "y": 4.53e-9}]}, "mark": {"type": "point", "shape": "M 0 -1 A 0.374 1 0 1 1 0 1 A 0.374 1 0 1 1 0 -1 Z", "size": 21609, "filled": false, "stroke": "#D9EE7A", "strokeWidth": 2, "opacity": 1},
         "encoding": {"x": {"field": "x", "type": "quantitative", "scale": {"domain": [0, 14]}, "axis": null}, "y": {"field": "y", "type": "quantitative", "scale": {"domain": [0, 8e-9]}, "axis": {"title": "Ek [J/m3] - DSCOVR", "labelOverlap": false, "values": [0, 1e-9, 2e-9, 3e-9, 4e-9, 5e-9, 6e-9, 7e-9, 8e-9], "labelExpr": "datum.value == 0 ? '0' : round(datum.value * 1e9) + 'E-09'"}}}},
        {"data": {"values": [{"x": 6.45, "y": 3.11e-9}]}, "mark": {"type": "point", "shape": "M 0 -1 A 0.699 1 0 1 1 0 1 A 0.699 1 0 1 1 0 -1 Z", "size": 8649, "filled": false, "stroke": "#D9EE7A", "strokeWidth": 2, "opacity": 1},
         "encoding": {"x": {"field": "x", "type": "quantitative", "scale": {"domain": [0, 14]}, "axis": null}, "y": {"field": "y", "type": "quantitative", "scale": {"domain": [0, 8e-9]}, "axis": {"title": "Ek [J/m3] - DSCOVR", "labelOverlap": false, "values": [0, 1e-9, 2e-9, 3e-9, 4e-9, 5e-9, 6e-9, 7e-9, 8e-9], "labelExpr": "datum.value == 0 ? '0' : round(datum.value * 1e9) + 'E-09'"}}}},
        {"data": {"values": [{"x": 13.42, "y": 6.91e-9}]}, "mark": {"type": "point", "shape": "M -1 0 A 1 0.672 0 1 1 1 0 A 1 0.672 0 1 1 -1 0 Z", "size": 4096, "filled": true, "fill": "#F4B183", "stroke": "#EE9F6C", "strokeWidth": 1.5, "opacity": 1},
         "encoding": {"x": {"field": "x", "type": "quantitative", "scale": {"domain": [0, 14]}, "axis": null}, "y": {"field": "y", "type": "quantitative", "scale": {"domain": [0, 8e-9]}, "axis": {"title": "Ek [J/m3] - DSCOVR", "labelOverlap": false, "values": [0, 1e-9, 2e-9, 3e-9, 4e-9, 5e-9, 6e-9, 7e-9, 8e-9], "labelExpr": "datum.value == 0 ? '0' : round(datum.value * 1e9) + 'E-09'"}}}},
        {"data": {"values": [{"x": 13.42, "y": 6.91e-9, "t": "b)"}]}, "mark": {"type": "text", "font": "Liberation Serif", "fontSize": 14, "fontWeight": "bold", "color": "#3A3A3A", "baseline": "middle"},
         "encoding": {"x": {"field": "x", "type": "quantitative", "scale": {"domain": [0, 14]}, "axis": null}, "y": {"field": "y", "type": "quantitative", "scale": {"domain": [0, 8e-9]}, "axis": {"title": "Ek [J/m3] - DSCOVR", "labelOverlap": false, "values": [0, 1e-9, 2e-9, 3e-9, 4e-9, 5e-9, 6e-9, 7e-9, 8e-9], "labelExpr": "datum.value == 0 ? '0' : round(datum.value * 1e9) + 'E-09'"}}, "text": {"field": "t"}}}
      ]
    },
    {
      "width": 840, "height": 204,
      "layer": [
        {"data": {"name": "days"}, "mark": {"type": "rule", "color": "#5B8A66", "strokeWidth": 1.5}, "encoding": {"x": {"field": "d", "type": "quantitative", "scale": {"domain": [0, 14]}, "axis": null}}},
        {"data": {"name": "c"}, "mark": {"type": "line", "color": "#7030A0", "strokeWidth": 2, "strokeJoin": "round"},
         "encoding": {"x": {"field": "d", "type": "quantitative", "scale": {"domain": [0, 14]}, "axis": null},
                      "y": {"field": "v", "type": "quantitative", "scale": {"domain": [0, 3e-16]}, "axis": {"title": "Et [J/m3]- DSCOVR", "labelOverlap": false, "values": [0, 5e-17, 1e-16, 1.5e-16, 2e-16, 2.5e-16, 3e-16], "labelExpr": "datum.value == 0 ? '0' : (datum.value < 7e-17 ? '5E-17' : replace(format(datum.value * 1e16, '.2~f'), '.', ',') + 'E-16')"}}}},
        {"data": {"values": [{"x1": 0.42, "x2": 4.08, "y1": 2.04e-16, "y2": 2.79e-16}]}, "mark": {"type": "rect", "color": "#F8CBAD", "opacity": 1},
         "encoding": {"x": {"field": "x1", "type": "quantitative", "scale": {"domain": [0, 14]}, "axis": null}, "x2": {"field": "x2"}, "y": {"field": "y1", "type": "quantitative", "scale": {"domain": [0, 3e-16]}, "axis": {"title": "Et [J/m3]- DSCOVR", "labelOverlap": false, "values": [0, 5e-17, 1e-16, 1.5e-16, 2e-16, 2.5e-16, 3e-16], "labelExpr": "datum.value == 0 ? '0' : (datum.value < 7e-17 ? '5E-17' : replace(format(datum.value * 1e16, '.2~f'), '.', ',') + 'E-16')"}}, "y2": {"field": "y2"}}},
        {"data": {"values": [{"x": 0.64, "y": 2.57e-16, "t": "Thermal energy density\n- DSCOVR"}]}, "mark": {"type": "text", "align": "left", "baseline": "middle", "lineBreak": "\n", "lineHeight": 21, "fontSize": 17, "font": "Open Sans", "color": "#404040"},
         "encoding": {"x": {"field": "x", "type": "quantitative", "scale": {"domain": [0, 14]}, "axis": null}, "y": {"field": "y", "type": "quantitative", "scale": {"domain": [0, 3e-16]}, "axis": {"title": "Et [J/m3]- DSCOVR", "labelOverlap": false, "values": [0, 5e-17, 1e-16, 1.5e-16, 2e-16, 2.5e-16, 3e-16], "labelExpr": "datum.value == 0 ? '0' : (datum.value < 7e-17 ? '5E-17' : replace(format(datum.value * 1e16, '.2~f'), '.', ',') + 'E-16')"}}, "text": {"field": "t"}}},
        {"data": {"values": [{"x": 5.13, "y": 1.77e-16}]}, "mark": {"type": "point", "shape": "M 0 -1 A 0.392 1 0 1 1 0 1 A 0.392 1 0 1 1 0 -1 Z", "size": 20449, "filled": false, "stroke": "#D9EE7A", "strokeWidth": 2, "opacity": 1},
         "encoding": {"x": {"field": "x", "type": "quantitative", "scale": {"domain": [0, 14]}, "axis": null}, "y": {"field": "y", "type": "quantitative", "scale": {"domain": [0, 3e-16]}, "axis": {"title": "Et [J/m3]- DSCOVR", "labelOverlap": false, "values": [0, 5e-17, 1e-16, 1.5e-16, 2e-16, 2.5e-16, 3e-16], "labelExpr": "datum.value == 0 ? '0' : (datum.value < 7e-17 ? '5E-17' : replace(format(datum.value * 1e16, '.2~f'), '.', ',') + 'E-16')"}}}},
        {"data": {"values": [{"x": 6.57, "y": 1.14e-16}]}, "mark": {"type": "point", "shape": "M 0 -1 A 0.343 1 0 1 1 0 1 A 0.343 1 0 1 1 0 -1 Z", "size": 28561, "filled": false, "stroke": "#D9EE7A", "strokeWidth": 2, "opacity": 1},
         "encoding": {"x": {"field": "x", "type": "quantitative", "scale": {"domain": [0, 14]}, "axis": null}, "y": {"field": "y", "type": "quantitative", "scale": {"domain": [0, 3e-16]}, "axis": {"title": "Et [J/m3]- DSCOVR", "labelOverlap": false, "values": [0, 5e-17, 1e-16, 1.5e-16, 2e-16, 2.5e-16, 3e-16], "labelExpr": "datum.value == 0 ? '0' : (datum.value < 7e-17 ? '5E-17' : replace(format(datum.value * 1e16, '.2~f'), '.', ',') + 'E-16')"}}}},
        {"data": {"values": [{"x": 13.42, "y": 2.63e-16}]}, "mark": {"type": "point", "shape": "M -1 0 A 1 0.672 0 1 1 1 0 A 1 0.672 0 1 1 -1 0 Z", "size": 4096, "filled": true, "fill": "#F4B183", "stroke": "#EE9F6C", "strokeWidth": 1.5, "opacity": 1},
         "encoding": {"x": {"field": "x", "type": "quantitative", "scale": {"domain": [0, 14]}, "axis": null}, "y": {"field": "y", "type": "quantitative", "scale": {"domain": [0, 3e-16]}, "axis": {"title": "Et [J/m3]- DSCOVR", "labelOverlap": false, "values": [0, 5e-17, 1e-16, 1.5e-16, 2e-16, 2.5e-16, 3e-16], "labelExpr": "datum.value == 0 ? '0' : (datum.value < 7e-17 ? '5E-17' : replace(format(datum.value * 1e16, '.2~f'), '.', ',') + 'E-16')"}}}},
        {"data": {"values": [{"x": 13.42, "y": 2.63e-16, "t": "c)"}]}, "mark": {"type": "text", "font": "Liberation Serif", "fontSize": 14, "fontWeight": "bold", "color": "#3A3A3A", "baseline": "middle"},
         "encoding": {"x": {"field": "x", "type": "quantitative", "scale": {"domain": [0, 14]}, "axis": null}, "y": {"field": "y", "type": "quantitative", "scale": {"domain": [0, 3e-16]}, "axis": {"title": "Et [J/m3]- DSCOVR", "labelOverlap": false, "values": [0, 5e-17, 1e-16, 1.5e-16, 2e-16, 2.5e-16, 3e-16], "labelExpr": "datum.value == 0 ? '0' : (datum.value < 7e-17 ? '5E-17' : replace(format(datum.value * 1e16, '.2~f'), '.', ',') + 'E-16')"}}, "text": {"field": "t"}}}
      ]
    },
    {
      "width": 840, "height": 201,
      "layer": [
        {"data": {"name": "days"}, "mark": {"type": "rule", "color": "#5B8A66", "strokeWidth": 1.5}, "encoding": {"x": {"field": "d", "type": "quantitative", "scale": {"domain": [0, 14]}, "axis": {"title": null, "grid": false, "labelOverlap": false, "values": [0.45, 2.45, 4.45, 6.45, 8.45, 10.45, 12.5], "labelExpr": "'Sep ' + (floor(datum.value / 2) * 2 + 2)", "labelFontSize": 13.5, "labelPadding": 9}}}},
        {"data": {"name": "dd"}, "mark": {"type": "line", "color": "#000000", "strokeWidth": 2, "strokeJoin": "round"},
         "encoding": {"x": {"field": "d", "type": "quantitative", "scale": {"domain": [0, 14]}, "axis": {"title": null, "grid": false, "labelOverlap": false, "values": [0.45, 2.45, 4.45, 6.45, 8.45, 10.45, 12.5], "labelExpr": "'Sep ' + (floor(datum.value / 2) * 2 + 2)", "labelFontSize": 13.5, "labelPadding": 9}},
                      "y": {"field": "v", "type": "quantitative", "scale": {"domain": [0, 5e-10]}, "axis": {"title": "Em[J/m3] - DSCOVR", "labelOverlap": false, "values": [0, 1e-10, 2e-10, 3e-10, 4e-10, 5e-10], "labelExpr": "datum.value == 0 ? '0' : round(datum.value * 1e10) + 'E-10'"}}}},
        {"data": {"values": [{"x1": 0.32, "x2": 3.92, "y1": 3.46e-10, "y2": 4.7e-10}]}, "mark": {"type": "rect", "color": "#F8CBAD", "opacity": 1},
         "encoding": {"x": {"field": "x1", "type": "quantitative", "scale": {"domain": [0, 14]}, "axis": {"title": null, "grid": false, "labelOverlap": false, "values": [0.45, 2.45, 4.45, 6.45, 8.45, 10.45, 12.5], "labelExpr": "'Sep ' + (floor(datum.value / 2) * 2 + 2)", "labelFontSize": 13.5, "labelPadding": 9}}, "x2": {"field": "x2"}, "y": {"field": "y1", "type": "quantitative", "scale": {"domain": [0, 5e-10]}, "axis": {"title": "Em[J/m3] - DSCOVR", "labelOverlap": false, "values": [0, 1e-10, 2e-10, 3e-10, 4e-10, 5e-10], "labelExpr": "datum.value == 0 ? '0' : round(datum.value * 1e10) + 'E-10'"}}, "y2": {"field": "y2"}}},
        {"data": {"values": [{"x": 0.53, "y": 4.33e-10, "t": "Magnetic energy density\n- DSCOVR"}]}, "mark": {"type": "text", "align": "left", "baseline": "middle", "lineBreak": "\n", "lineHeight": 21, "fontSize": 17, "font": "Open Sans", "color": "#404040"},
         "encoding": {"x": {"field": "x", "type": "quantitative", "scale": {"domain": [0, 14]}, "axis": {"title": null, "grid": false, "labelOverlap": false, "values": [0.45, 2.45, 4.45, 6.45, 8.45, 10.45, 12.5], "labelExpr": "'Sep ' + (floor(datum.value / 2) * 2 + 2)", "labelFontSize": 13.5, "labelPadding": 9}}, "y": {"field": "y", "type": "quantitative", "scale": {"domain": [0, 5e-10]}, "axis": {"title": "Em[J/m3] - DSCOVR", "labelOverlap": false, "values": [0, 1e-10, 2e-10, 3e-10, 4e-10, 5e-10], "labelExpr": "datum.value == 0 ? '0' : round(datum.value * 1e10) + 'E-10'"}}, "text": {"field": "t"}}},
        {"data": {"values": [{"x": 6.0, "y": 2.84e-10}]}, "mark": {"type": "point", "shape": "M 0 -1 A 0.33 1 0 1 1 0 1 A 0.33 1 0 1 1 0 -1 Z", "size": 25921, "filled": false, "stroke": "#D9EE7A", "strokeWidth": 2, "opacity": 1},
         "encoding": {"x": {"field": "x", "type": "quantitative", "scale": {"domain": [0, 14]}, "axis": {"title": null, "grid": false, "labelOverlap": false, "values": [0.45, 2.45, 4.45, 6.45, 8.45, 10.45, 12.5], "labelExpr": "'Sep ' + (floor(datum.value / 2) * 2 + 2)", "labelFontSize": 13.5, "labelPadding": 9}}, "y": {"field": "y", "type": "quantitative", "scale": {"domain": [0, 5e-10]}, "axis": {"title": "Em[J/m3] - DSCOVR", "labelOverlap": false, "values": [0, 1e-10, 2e-10, 3e-10, 4e-10, 5e-10], "labelExpr": "datum.value == 0 ? '0' : round(datum.value * 1e10) + 'E-10'"}}}},
        {"data": {"values": [{"x": 13.42, "y": 4.35e-10}]}, "mark": {"type": "point", "shape": "M -1 0 A 1 0.672 0 1 1 1 0 A 1 0.672 0 1 1 -1 0 Z", "size": 4096, "filled": true, "fill": "#F4B183", "stroke": "#EE9F6C", "strokeWidth": 1.5, "opacity": 1},
         "encoding": {"x": {"field": "x", "type": "quantitative", "scale": {"domain": [0, 14]}, "axis": {"title": null, "grid": false, "labelOverlap": false, "values": [0.45, 2.45, 4.45, 6.45, 8.45, 10.45, 12.5], "labelExpr": "'Sep ' + (floor(datum.value / 2) * 2 + 2)", "labelFontSize": 13.5, "labelPadding": 9}}, "y": {"field": "y", "type": "quantitative", "scale": {"domain": [0, 5e-10]}, "axis": {"title": "Em[J/m3] - DSCOVR", "labelOverlap": false, "values": [0, 1e-10, 2e-10, 3e-10, 4e-10, 5e-10], "labelExpr": "datum.value == 0 ? '0' : round(datum.value * 1e10) + 'E-10'"}}}},
        {"data": {"values": [{"x": 13.42, "y": 4.35e-10, "t": "d)"}]}, "mark": {"type": "text", "font": "Liberation Serif", "fontSize": 14, "fontWeight": "bold", "color": "#3A3A3A", "baseline": "middle"},
         "encoding": {"x": {"field": "x", "type": "quantitative", "scale": {"domain": [0, 14]}, "axis": {"title": null, "grid": false, "labelOverlap": false, "values": [0.45, 2.45, 4.45, 6.45, 8.45, 10.45, 12.5], "labelExpr": "'Sep ' + (floor(datum.value / 2) * 2 + 2)", "labelFontSize": 13.5, "labelPadding": 9}}, "y": {"field": "y", "type": "quantitative", "scale": {"domain": [0, 5e-10]}, "axis": {"title": "Em[J/m3] - DSCOVR", "labelOverlap": false, "values": [0, 1e-10, 2e-10, 3e-10, 4e-10, 5e-10], "labelExpr": "datum.value == 0 ? '0' : round(datum.value * 1e10) + 'E-10'"}}, "text": {"field": "t"}}}
      ]
    }
  ],
  "spacing": 25,
  "bounds": "flush"
}
